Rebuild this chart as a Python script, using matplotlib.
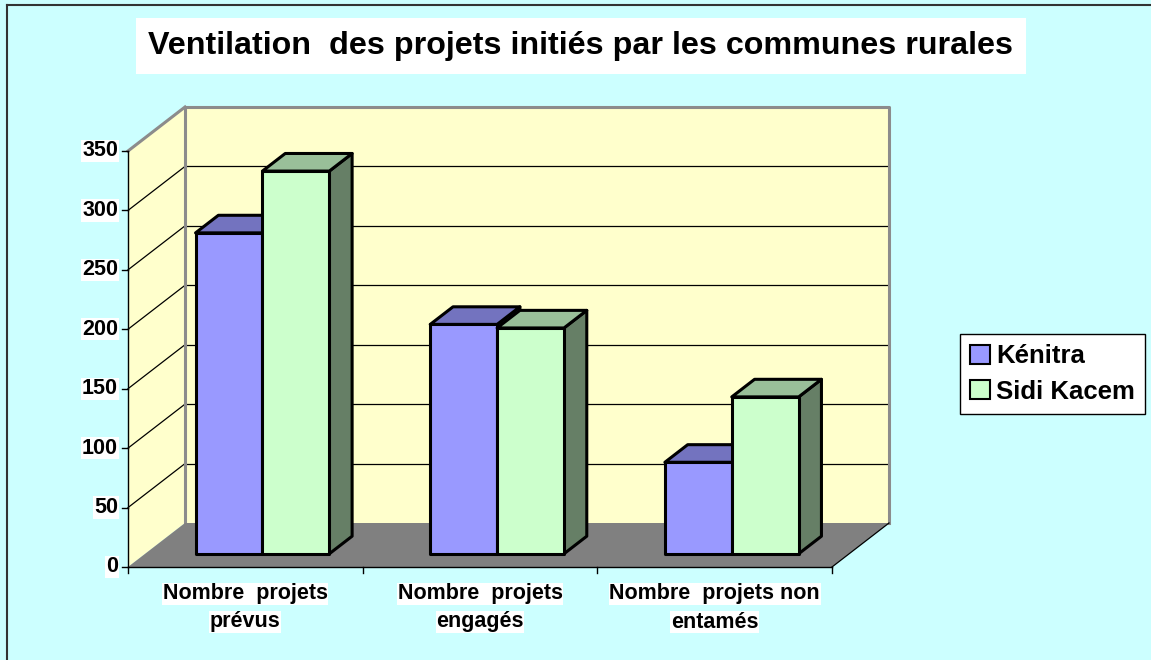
import numpy as np
import matplotlib.pyplot as plt
from matplotlib.patches import Polygon, Rectangle

plt.rcParams['font.family'] = ['Liberation Sans', 'DejaVu Sans']

# data
categories = ['Nombre  projets\nprévus', 'Nombre  projets\nengagés', 'Nombre  projets non\nentamés']
series = ['Kénitra', 'Sidi Kacem']
kenitra = [270, 193, 77]
sidi_kacem = [322, 190, 132]
yticks = [0, 50, 100, 150, 200, 250, 300, 350]
title = 'Ventilation  des projets initiés par les communes rurales'

values = [kenitra, sidi_kacem]
front_col = ['#9999FF', '#CCFFCC']
top_col = ['#7373BF', '#99BF99']
side_col = ['#5C5C99', '#667F66']

# pixel layout -> data units (x: category units, y: value units)
W, H = 1151, 660
px_cat = (832 - 128) / 3.0
px_val = (567 - 151) / 350.0
x0_px, y0_px = 128, 567
DX = 57 / px_cat      # depth offset in category units
DY = 44 / px_val      # depth offset in value units
ymax = 350

fig = plt.figure(figsize=(W / 100, H / 100), dpi=100, facecolor='#CCFFFF')
ax = fig.add_axes([0, 0, 1, 1])
ax.set_xlim(-x0_px / px_cat, (W - x0_px) / px_cat)
ax.set_ylim(-(H - y0_px) / px_val, y0_px / px_val)
ax.axis('off')
ax.set_facecolor('#CCFFFF')

ncat = len(categories)

# outer frame (top & left visible)
fig.add_artist(plt.Line2D([7 / W, 7 / W], [0, 1 - 5 / H], color='#333333', lw=1.5))
fig.add_artist(plt.Line2D([7 / W, 1], [1 - 5 / H, 1 - 5 / H], color='#333333', lw=1.5))

# back wall, side wall, floor
ax.add_patch(Polygon([(DX, DY), (ncat + DX, DY), (ncat + DX, ymax + DY), (DX, ymax + DY)],
                     closed=True, facecolor='#FFFFCC', edgecolor='none', zorder=1))
ax.add_patch(Polygon([(0, 0), (DX, DY), (DX, ymax + DY), (0, ymax)],
                     closed=True, facecolor='#FFFFCC', edgecolor='none', zorder=1))
ax.add_patch(Polygon([(0, 0), (ncat, 0), (ncat + DX, DY), (DX, DY)],
                     closed=True, facecolor='#808080', edgecolor='none', zorder=2))

# gridlines
for v in yticks[1:]:
    ax.plot([DX, ncat + DX], [v + DY, v + DY], color='black', lw=0.9, zorder=1.5)
    ax.plot([0, DX], [v, v + DY], color='black', lw=0.9, zorder=1.5)

# wall borders
ax.plot([DX, DX, ncat + DX, ncat + DX], [DY, ymax + DY, ymax + DY, DY],
        color='#8C8C8C', lw=2.2, zorder=1.6)
ax.plot([0, DX], [ymax, ymax + DY], color='#8C8C8C', lw=2.2, zorder=1.6)
ax.plot([ncat, ncat + DX], [0, DY], color='black', lw=0.9, zorder=2.5)

# front axes
ax.plot([0, 0], [0, ymax], color='black', lw=1, zorder=3)
ax.plot([0, ncat], [0, 0], color='black', lw=1, zorder=3)
tick_dx = 6 / px_cat
tick_dy = 6 / px_val
for v in yticks:
    ax.plot([-tick_dx, 0], [v, v], color='black', lw=1, zorder=3)
    ax.text(-10 / px_cat, v, str(v), ha='right', va='center', fontsize=15.5,
            fontweight='bold', zorder=4,
            bbox=dict(facecolor='white', edgecolor='none', pad=0.5))
for i in range(ncat + 1):
    ax.plot([i, i], [0, -tick_dy], color='black', lw=1, zorder=3)
for i, c in enumerate(categories):
    ax.text(i + 0.5, -27 / px_val, c.split('\n')[0], ha='center', va='center',
            fontsize=15.5, fontweight='bold', zorder=4,
            bbox=dict(facecolor='white', edgecolor='none', pad=0.5))
    ax.text(i + 0.5, -55 / px_val, c.split('\n')[1], ha='center', va='center',
            fontsize=15.5, fontweight='bold', zorder=4,
            bbox=dict(facecolor='white', edgecolor='none', pad=0.5))

# 3D bars
zf, zb = 0.3, 0.7
bw = 0.285
gap = (1 - 2 * bw) / 2
for i in range(ncat):
    for s in range(len(series)):
        v = values[s][i]
        xl = i + gap + s * bw + zf * DX
        xr = xl + bw
        yb = zf * DY
        yt = v + zf * DY
        ddx = (zb - zf) * DX
        ddy = (zb - zf) * DY
        zo = 5 + i * 2 + s
        ax.add_patch(Polygon([(xr, yb), (xr + ddx, yb + ddy), (xr + ddx, yt + ddy), (xr, yt)],
                             closed=True, facecolor=side_col[s], edgecolor='black',
                             lw=2.2, joinstyle='round', zorder=zo))
        ax.add_patch(Polygon([(xl, yt), (xr, yt), (xr + ddx, yt + ddy), (xl + ddx, yt + ddy)],
                             closed=True, facecolor=top_col[s], edgecolor='black',
                             lw=2.2, joinstyle='round', zorder=zo))
        ax.add_patch(Rectangle((xl, yb), bw, v, facecolor=front_col[s], edgecolor='black',
                               lw=2.2, joinstyle='round', zorder=zo))

# title
fig.text(581 / W, 1 - 46 / H, title, ha='center', va='center', fontsize=23.2,
         fontweight='bold',
         bbox=dict(facecolor='white', edgecolor='none', boxstyle='square,pad=0.4'))

# legend
handles = [Rectangle((0, 0), 1, 1, facecolor=front_col[s], edgecolor='black', lw=1.5)
           for s in range(len(series))]
leg = fig.legend(handles, series, loc='center left', bbox_to_anchor=(960 / W, 1 - 374 / H),
                 frameon=True, fancybox=False, edgecolor='black', facecolor='white',
                 framealpha=1,
                 prop={'weight': 'bold', 'size': 18.5}, handlelength=0.75, handleheight=0.75,
                 handletextpad=0.25, borderpad=0.4, labelspacing=0.45, borderaxespad=0)
leg.get_frame().set_linewidth(1)

plt.savefig('out.png', dpi=100, facecolor=fig.get_facecolor())
